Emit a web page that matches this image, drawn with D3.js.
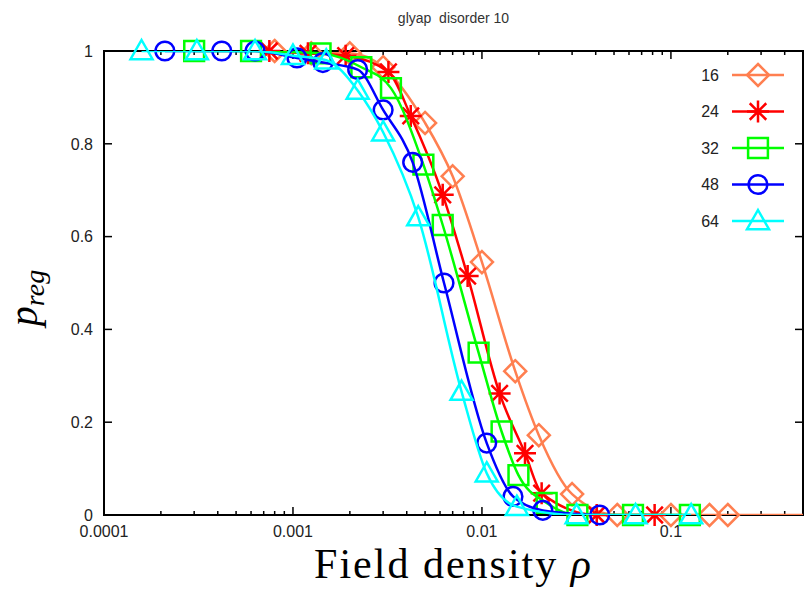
<!DOCTYPE html>
<html>
<head>
<meta charset="utf-8">
<script src="https://cdn.jsdelivr.net/npm/d3@7/dist/d3.min.js"></script>
<style>
  body { margin: 0; background: #fff; }
  svg { display: block; }
</style>
</head>
<body>
<svg id="chart" width="809" height="589"></svg>
<script>
// sizes of the systems (legend order)
var sizes = ["16", "24", "32", "48", "64"];
var colors = ["#ff7f50", "#ff0000", "#00ff00", "#0000ff", "#00ffff"];
var shapes = ["diamond", "asterisk", "square", "circle", "triangle"];

// field density rho and p_reg for each size
var rho16 = [0.0008, 0.00125, 0.002, 0.003, 0.005, 0.007, 0.01, 0.015, 0.02, 0.03, 0.052, 0.1, 0.16, 0.2, 0.6];
var preg16 = [1.0, 0.995, 0.995, 0.965, 0.845, 0.73, 0.545, 0.31, 0.172, 0.045, 0, 0, 0, 0, 0];

var rho24 = [0.00075, 0.0012, 0.0019, 0.0032, 0.0042, 0.0062, 0.0084, 0.0124, 0.0169, 0.0207, 0.0405, 0.082];
var preg24 = [1.0, 0.995, 0.99, 0.955, 0.86, 0.69, 0.515, 0.262, 0.133, 0.047, 0, 0];

var rho32 = [0.0003, 0.0006, 0.0014, 0.0023, 0.0033, 0.0049, 0.0062, 0.0096, 0.0127, 0.0156, 0.022, 0.032, 0.063, 0.126];
var preg32 = [1.0, 1.0, 0.995, 0.965, 0.92, 0.755, 0.625, 0.35, 0.18, 0.086, 0.026, 0, 0, 0];

var rho48 = [0.00021, 0.00042, 0.00063, 0.00105, 0.00144, 0.0022, 0.003, 0.0043, 0.0063, 0.0106, 0.0146, 0.021, 0.042];
var preg48 = [1.0, 1.0, 1.0, 0.985, 0.975, 0.96, 0.873, 0.76, 0.5, 0.155, 0.04, 0.01, 0];

var rho64 = [0.000158, 0.00031, 0.00063, 0.001, 0.0015, 0.0022, 0.003, 0.0046, 0.0078, 0.0106, 0.0153, 0.0317, 0.065, 0.128];
var preg64 = [1.0, 1.0, 1.0, 0.99, 0.98, 0.915, 0.825, 0.642, 0.266, 0.09, 0.018, 0, 0, 0];

var xTicks = [0.0001, 0.001, 0.01, 0.1];
var xTickLabels = ["0.0001", "0.001", "0.01", "0.1"];
var yTicks = [0, 0.2, 0.4, 0.6, 0.8, 1];
var yTickLabels = ["0", "0.2", "0.4", "0.6", "0.8", "1"];

var series = [
  { xs: rho16, ys: preg16 },
  { xs: rho24, ys: preg24 },
  { xs: rho32, ys: preg32 },
  { xs: rho48, ys: preg48 },
  { xs: rho64, ys: preg64 }
].map(function(s, i) {
  return {
    name: sizes[i],
    color: colors[i],
    shape: shapes[i],
    values: s.xs.map(function(x, j) { return { x: x, y: s.ys[j] }; })
  };
});

var svg = d3.select("#chart"),
  margin = { top: 51, right: 6, bottom: 74, left: 104 },
  width = +svg.attr("width") - margin.left - margin.right,
  height = +svg.attr("height") - margin.top - margin.bottom;

var x = d3.scaleLog().domain([0.0001, 0.5]).range([0, width]);
var y = d3.scaleLinear().domain([0, 1]).range([height, 0]);

var g = svg.append("g")
  .attr("transform", "translate(" + margin.left + "," + margin.top + ")");

svg.append("defs").append("clipPath").attr("id", "clip")
  .append("rect").attr("width", width).attr("height", height);

// minor x ticks (2..9 per decade), bottom and top, pointing inward
var minorX = [];
[0.0001, 0.001, 0.01, 0.1].forEach(function(d) {
  for (var k = 2; k <= 9; k++) {
    if (d * k <= 0.5) minorX.push(d * k);
  }
});

var tickColor = "#000";
g.selectAll(".xminor")
  .data(minorX).enter().append("g")
  .each(function(d) {
    var t = d3.select(this);
    t.append("line").attr("x1", x(d)).attr("x2", x(d))
      .attr("y1", height).attr("y2", height - 4);
    t.append("line").attr("x1", x(d)).attr("x2", x(d))
      .attr("y1", 0).attr("y2", 4);
  })
  .selectAll("line").attr("stroke", tickColor).attr("stroke-width", 1.5);

g.selectAll(".xmajor")
  .data(xTicks).enter().append("g")
  .each(function(d) {
    var t = d3.select(this);
    t.append("line").attr("x1", x(d)).attr("x2", x(d))
      .attr("y1", height).attr("y2", height - 8);
    t.append("line").attr("x1", x(d)).attr("x2", x(d))
      .attr("y1", 0).attr("y2", 8);
  })
  .selectAll("line").attr("stroke", tickColor).attr("stroke-width", 1.5);

g.selectAll(".ymajor")
  .data(yTicks).enter().append("g")
  .each(function(d) {
    var t = d3.select(this);
    t.append("line").attr("x1", 0).attr("x2", 8)
      .attr("y1", y(d)).attr("y2", y(d));
    t.append("line").attr("x1", width).attr("x2", width - 8)
      .attr("y1", y(d)).attr("y2", y(d));
  })
  .selectAll("line").attr("stroke", tickColor).attr("stroke-width", 1.5);

// tick labels
g.selectAll(".xlab")
  .data(xTicks).enter().append("text")
  .attr("x", function(d) { return x(d); })
  .attr("y", height + 22)
  .attr("text-anchor", "middle")
  .attr("font-family", "Liberation Sans, Arial, sans-serif")
  .attr("font-size", 16)
  .attr("fill", "#222")
  .text(function(d, i) { return xTickLabels[i]; });

g.selectAll(".ylab")
  .data(yTicks).enter().append("text")
  .attr("x", -11)
  .attr("y", function(d) { return y(d); })
  .attr("dy", "0.36em")
  .attr("text-anchor", "end")
  .attr("font-family", "Liberation Sans, Arial, sans-serif")
  .attr("font-size", 16)
  .attr("fill", "#222")
  .text(function(d, i) { return yTickLabels[i]; });

// frame
g.append("rect")
  .attr("width", width).attr("height", height)
  .attr("fill", "none").attr("stroke", "#000").attr("stroke-width", 2);

// curves
var line = d3.line()
  .x(function(d) { return x(d.x); })
  .y(function(d) { return y(d.y); })
  .curve(d3.curveMonotoneX);

function symbolPath(shape, s) {
  if (shape === "diamond") return "M0," + -s + "L" + s + ",0L0," + s + "L" + -s + ",0Z";
  if (shape === "square") return "M" + -s * 0.9 + "," + -s * 0.9 + "h" + s * 1.8 + "v" + s * 1.8 + "h" + -s * 1.8 + "Z";
  if (shape === "circle") return "M" + s * 0.85 + ",0A" + s * 0.85 + "," + s * 0.85 + " 0 1,1 " + -s * 0.85 + ",0A" + s * 0.85 + "," + s * 0.85 + " 0 1,1 " + s * 0.85 + ",0Z";
  if (shape === "triangle") return "M0," + -s + "L" + s + "," + s * 0.75 + "L" + -s + "," + s * 0.75 + "Z";
  // asterisk: vertical, horizontal and two diagonals
  var a = s * 0.75;
  return "M0," + -s + "V" + s + "M" + -s + ",0H" + s +
    "M" + -a + "," + -a + "L" + a + "," + a + "M" + -a + "," + a + "L" + a + "," + -a;
}

var sg = g.selectAll(".series")
  .data(series).enter().append("g");

sg.append("path")
  .attr("clip-path", "url(#clip)")
  .attr("fill", "none")
  .attr("stroke", function(d) { return d.color; })
  .attr("stroke-width", 2.5)
  .attr("d", function(d) { return line(d.values); });

sg.each(function(s) {
  d3.select(this).selectAll(".pt")
    .data(s.values.filter(function(d) { return d.x <= 0.5; }))
    .enter().append("path")
    .attr("transform", function(d) { return "translate(" + x(d.x) + "," + y(d.y) + ")"; })
    .attr("d", symbolPath(s.shape, 11))
    .attr("fill", "none")
    .attr("stroke", s.color)
    .attr("stroke-width", 2.5);
});

// legend
var legend = g.append("g")
  .selectAll("g")
  .data(series).enter().append("g")
  .attr("transform", function(d, i) { return "translate(0," + (24 + i * 36.5) + ")"; });

legend.append("text")
  .attr("x", 615)
  .attr("dy", "0.36em")
  .attr("text-anchor", "end")
  .attr("font-family", "Liberation Sans, Arial, sans-serif")
  .attr("font-size", 16)
  .attr("fill", "#222")
  .text(function(d) { return d.name; });

legend.append("line")
  .attr("x1", 628).attr("x2", 680)
  .attr("stroke", function(d) { return d.color; })
  .attr("stroke-width", 2.5);

legend.append("path")
  .attr("transform", "translate(654,0)")
  .attr("d", function(d) { return symbolPath(d.shape, 11); })
  .attr("fill", "none")
  .attr("stroke", function(d) { return d.color; })
  .attr("stroke-width", 2.5);

// title
svg.append("text")
  .attr("x", margin.left + width / 2)
  .attr("y", 23)
  .attr("text-anchor", "middle")
  .attr("font-family", "Liberation Sans, Arial, sans-serif")
  .attr("font-size", 14)
  .attr("fill", "#333")
  .attr("xml:space", "preserve")
  .text("glyap  disorder 10");

// axis titles
svg.append("text")
  .attr("x", margin.left + width / 2)
  .attr("y", 578)
  .attr("text-anchor", "middle")
  .attr("font-family", "Liberation Serif, Times New Roman, serif")
  .attr("font-size", 42)
  .attr("letter-spacing", 2)
  .attr("fill", "#000")
  .html("Field density <tspan font-style='italic'>ρ</tspan>");

var ylab = svg.append("text")
  .attr("transform", "translate(37,298) rotate(-90)")
  .attr("text-anchor", "middle")
  .attr("font-family", "Liberation Serif, Times New Roman, serif")
  .attr("font-style", "italic")
  .attr("fill", "#000");
ylab.append("tspan").attr("font-size", 40).text("p");
ylab.append("tspan").attr("font-size", 28).attr("dy", 7).text("reg");
</script>
</body>
</html>
